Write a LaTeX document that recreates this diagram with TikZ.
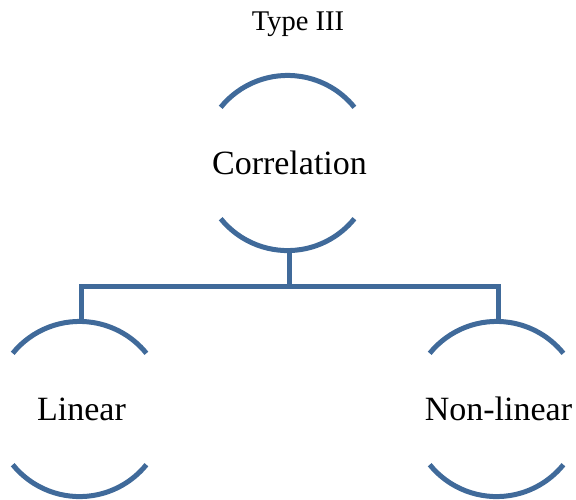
\documentclass[tikz,border=0pt]{standalone}
\usepackage{fontspec}
\setmainfont{Liberation Serif}
\definecolor{branch}{RGB}{64,106,154}
\begin{document}
\begin{tikzpicture}[x=1pt,y=-1pt,
  line width=5pt, line join=miter,
  item/.style={circle, draw=none, inner sep=0pt, minimum size=172pt,
    font=\fontsize{34}{40}\selectfont},
  brackets/.style={draw=branch, line width=5pt},
  link/.style={draw=branch, line width=5pt}]
  \useasboundingbox (0,0) rectangle (576,499);

  \node[anchor=base, font=\fontsize{28.5}{33}\selectfont] (title) at (298,30) {Type III};

  \node[item] (corr) at (289.5,163) {Correlation};
  \node[item] (lin)  at (81.5,409)  {Linear};
  \node[item] (non)  at (498.5,409) {Non-linear};

  % upper and lower arcs around each term
  \foreach \n in {corr,lin,non}{
    \draw[brackets] (\n.141) arc[start angle=141, end angle=39, radius=86pt];
    \draw[brackets] (\n.219) arc[start angle=219, end angle=321, radius=86pt];
  }

  % tree connector
  \coordinate (joint) at (289.5,286);
  \draw[link] (corr.south) -- (joint);
  \draw[link] (lin.north) |- (joint) -| (non.north);
\end{tikzpicture}
\end{document}
